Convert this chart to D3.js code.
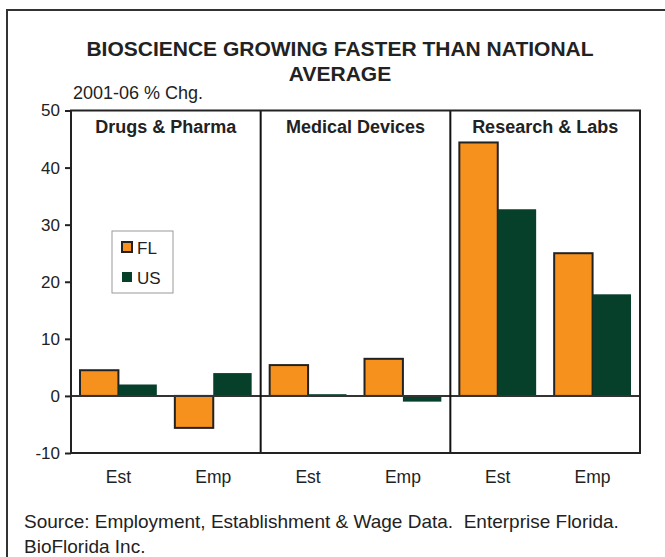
<!doctype html>
<html>
  <head>
  <meta charset="utf-8">
  <style>
    body { margin: 0; background-color: #fff; }
    text { font-family: "Liberation Sans", Arial, sans-serif; fill: #222; }
  </style>
  </head>
  <body>
  <script src="https://cdn.jsdelivr.net/npm/d3@7"></script>
  <script>
    var width = 665,
        height = 557;

    // data
    var panels = ['Drugs & Pharma', 'Medical Devices', 'Research & Labs'];
    var measures = ['Est', 'Emp'];
    var series = ['FL', 'US'];
    var flValues = [4.5, -5.6, 5.4, 6.5, 44.4, 25.0];
    var usValues = [2.0, 4.0, 0.3, -1.0, 32.7, 17.8];
    var yTicks = [-10, 0, 10, 20, 30, 40, 50];

    var colours = { FL: '#f7911e', US: '#063f2a' };
    var fontFamily = '"Liberation Sans", Arial, sans-serif';

    var groups = [];
    panels.forEach(function (p, i) {
      measures.forEach(function (m, j) {
        groups.push({ panel: p, measure: m, key: i + '-' + m,
                      FL: flValues[i * 2 + j], US: usValues[i * 2 + j] });
      });
    });

    var svg = d3.select('body').append('svg')
        .attr('width', width)
        .attr('height', height);

    // outer frame
    svg.append('rect')
        .attr('x', 7).attr('y', 10)
        .attr('width', width + 20).attr('height', height + 20)
        .attr('fill', 'none').attr('stroke', '#333').attr('stroke-width', 2);

    var plotLeft = 71, plotRight = 640, plotTop = 110.5, plotBottom = 453;

    var x = d3.scaleBand()
        .domain(groups.map(function (d) { return d.key; }))
        .range([plotLeft, plotRight])
        .paddingInner(0.19)
        .paddingOuter(0.095);

    var xs = d3.scaleBand().domain(series).range([0, x.bandwidth()]);

    var y = d3.scaleLinear().domain([-10, 50]).range([plotBottom, plotTop]);

    // title
    var title = svg.append('text')
        .attr('text-anchor', 'middle')
        .style('font-weight', 'bold')
        .style('font-size', '21px');
    title.append('tspan').attr('x', 340).attr('y', 56).text('BIOSCIENCE GROWING FASTER THAN NATIONAL');
    title.append('tspan').attr('x', 340).attr('y', 81).text('AVERAGE');

    svg.append('text')
        .attr('x', 73).attr('y', 99)
        .style('font-size', '18px')
        .text('2001-06 % Chg.');

    // bars
    var g = svg.append('g');
    groups.forEach(function (d) {
      series.forEach(function (s) {
        var v = d[s];
        g.append('rect')
            .attr('x', x(d.key) + xs(s))
            .attr('y', y(Math.max(0, v)))
            .attr('width', xs.bandwidth())
            .attr('height', Math.abs(y(v) - y(0)))
            .attr('fill', colours[s])
            .attr('stroke', s === 'FL' ? '#222' : 'none')
            .attr('stroke-width', 2);
      });
    });

    // zero line
    svg.append('line')
        .attr('x1', plotLeft).attr('x2', plotRight)
        .attr('y1', y(0)).attr('y2', y(0))
        .attr('stroke', '#333').attr('stroke-width', 2);

    // panel dividers
    var step = x.step();
    [2, 4].forEach(function (i) {
      var px = x(groups[i].key) - step * 0.19 / 2;
      svg.append('line')
          .attr('x1', px).attr('x2', px)
          .attr('y1', plotTop).attr('y2', plotBottom)
          .attr('stroke', '#111').attr('stroke-width', 2);
    });

    // plot frame
    svg.append('rect')
        .attr('x', plotLeft).attr('y', plotTop)
        .attr('width', plotRight - plotLeft).attr('height', plotBottom - plotTop)
        .attr('fill', 'none').attr('stroke', '#222').attr('stroke-width', 2);

    // panel headings
    panels.forEach(function (p, i) {
      var cx = (x(groups[i * 2].key) + x(groups[i * 2 + 1].key) + x.bandwidth()) / 2;
      svg.append('text')
          .attr('x', cx).attr('y', 133)
          .attr('text-anchor', 'middle')
          .style('font-weight', 'bold')
          .style('font-size', '18px')
          .text(p);
    });

    // y axis
    var yAxis = svg.append('g')
        .attr('transform', 'translate(' + plotLeft + ',0)')
        .call(d3.axisLeft(y).tickValues(yTicks).tickSize(6).tickPadding(5)
          .tickFormat(function (d) { return String(d); }));
    yAxis.select('.domain').remove();
    yAxis.selectAll('line').attr('stroke', '#222').attr('stroke-width', 2);
    yAxis.selectAll('text')
        .style('font-size', '17px')
        .style('font-family', fontFamily)
        .attr('fill', '#222');

    // x labels
    var xAxis = svg.append('g')
        .attr('transform', 'translate(0,' + plotBottom + ')')
        .call(d3.axisBottom(x).tickSize(0).tickPadding(18)
          .tickFormat(function (k) { return k.split('-')[1]; }));
    xAxis.select('.domain').remove();
    xAxis.selectAll('text')
        .style('font-size', '17.5px')
        .style('font-family', fontFamily)
        .attr('fill', '#222');

    // legend
    var legend = svg.append('g').attr('transform', 'translate(112,231)');
    legend.append('rect')
        .attr('width', 61).attr('height', 62)
        .attr('fill', '#fff').attr('stroke', '#999').attr('stroke-width', 1);
    series.forEach(function (s, i) {
      legend.append('rect')
          .attr('x', 10).attr('y', 11 + i * 30)
          .attr('width', 10).attr('height', 10)
          .attr('fill', colours[s])
          .attr('stroke', s === 'FL' ? '#222' : 'none')
          .attr('stroke-width', 2);
      legend.append('text')
          .attr('x', 25).attr('y', 23 + i * 30)
          .style('font-size', '17px')
          .text(s);
    });

    // source note
    var note = svg.append('text').style('font-size', '19px');
    note.append('tspan').attr('x', 24).attr('y', 528)
        .text('Source: Employment, Establishment & Wage Data.\u00a0 Enterprise Florida.');
    note.append('tspan').attr('x', 24).attr('y', 553).text('BioFlorida Inc.');
  </script>
  </body>
</html>
